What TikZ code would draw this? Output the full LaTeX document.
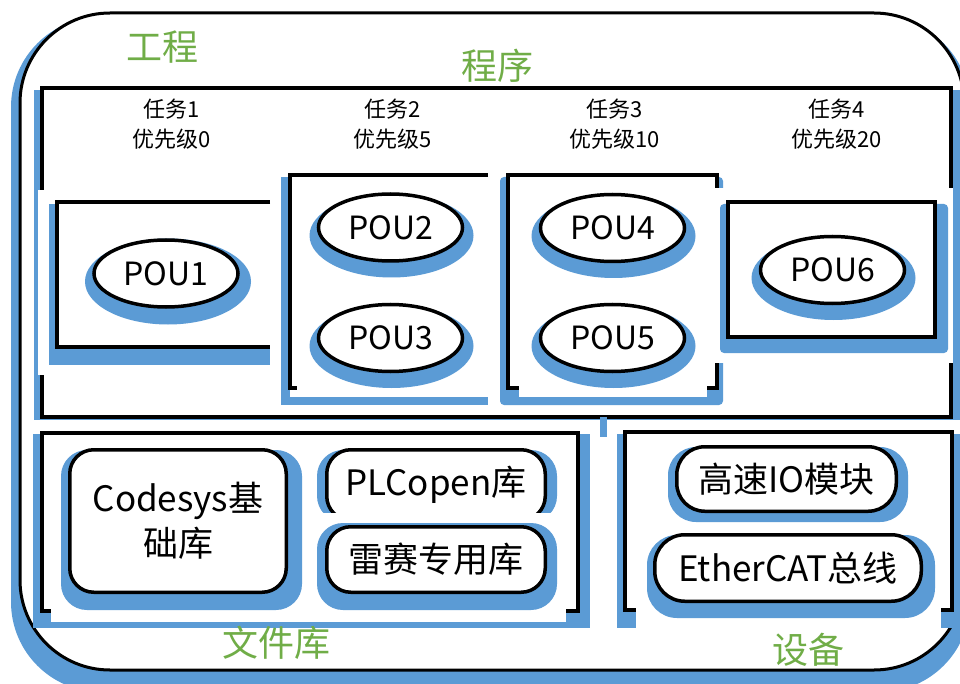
\documentclass[tikz,border=0pt]{standalone}
\usepackage{fontspec}
\setmainfont{Noto Sans CJK SC}
\usetikzlibrary{shapes.geometric}
\definecolor{shd}{HTML}{5B9BD5}
\definecolor{grn}{HTML}{70AD47}
\tikzset{
  shadowfill/.style={fill=shd},
  maskfill/.style={fill=white},
  panel/.style={draw=black, line width=3.4pt, fill=white},
  pou/.style={ellipse, draw=black, line width=3.5pt, fill=white, minimum width=144pt, minimum height=67pt, inner sep=0pt, font=\fontsize{32}{38}\selectfont},
  titletext/.style={text=grn, font=\fontsize{36}{40}\selectfont, inner sep=0pt},
  tasktext/.style={font=\fontsize{22}{30}\selectfont, align=center, inner sep=0pt},
  libbox/.style={draw=black, line width=3.5pt, fill=white, rounded corners=24pt, inner sep=0pt, font=\fontsize{35}{45}\selectfont, align=center},
}
\begin{document}
\begin{tikzpicture}[x=1pt, y=-1pt]
\useasboundingbox (0,0) rectangle (960,684);
\clip (0,0) rectangle (960,684);
% outer project box
\fill[shadowfill, rounded corners=90pt] (11,17) rectangle (970,692);
\draw[draw=black, line width=3pt, fill=white, rounded corners=90pt] (20,13) rectangle (964,670);
\node[titletext] (tproj) at (162,47) {工程};
\node[titletext] (tprog) at (497.5,66) {程序};
% program box
\fill[shadowfill] (34,90) rectangle (960,420);
\draw[panel] (42,88) rectangle (951,417);
\fill[shadowfill] (600,417) rectangle (607,437);
% task 1
\fill[maskfill] (38,190) rectangle (272,375);
\fill[shadowfill] (49,204) rectangle (270,365);
\fill[white] (57,202) rectangle (270,347);
\draw[line width=3.4pt] (270,202) -- (57,202) -- (57,347) -- (270,347);
% task 2
\fill[shadowfill] (281,177) rectangle (488,405);
\fill[white] (290,175) rectangle (488,397);
\draw[line width=3.4pt] (488,175) -- (290,175) -- (290,388) -- (297,388);
% task 3
\fill[shadowfill, rounded corners=4pt] (500,177) rectangle (723,405);
\draw[panel] (508,175) rectangle (717,388);
\fill[maskfill] (519,385.5) rectangle (707,397);
% task 4
\fill[maskfill] (706,188) rectangle (953,363);
\fill[shadowfill, rounded corners=4pt] (720,204) rectangle (948,353);
\draw[panel] (728,202) rectangle (935,337);
% task labels
\node[tasktext] (task1) at (172,124) {任务1\\优先级0};
\node[tasktext] (task2) at (393,124) {任务2\\优先级5};
\node[tasktext] (task3) at (614.5,124) {任务3\\优先级10};
\node[tasktext] (task4) at (836.5,124) {任务4\\优先级20};
% POUs
\fill[shadowfill] (168,281.5) ellipse [x radius=83pt, y radius=43pt];
\node[pou] (pou1) at (166,273.5) {POU1};
\fill[shadowfill] (391.5,235.5) ellipse [x radius=82pt, y radius=42pt];
\node[pou] (pou2) at (390.5,227.5) {POU2};
\fill[shadowfill] (391.5,346) ellipse [x radius=82pt, y radius=42pt];
\node[pou] (pou3) at (390.5,338) {POU3};
\fill[shadowfill] (613.5,236) ellipse [x radius=82pt, y radius=42pt];
\node[pou] (pou4) at (612.5,228) {POU4};
\fill[shadowfill] (613.5,346) ellipse [x radius=82pt, y radius=42pt];
\node[pou] (pou5) at (612.5,338) {POU5};
\fill[shadowfill] (833.5,278) ellipse [x radius=82pt, y radius=42pt];
\node[pou] (pou6) at (832.5,270) {POU6};
% library box
\fill[shadowfill] (33,434) rectangle (590,628);
\draw[panel] (42,433) rectangle (578,611);
\fill[maskfill] (51,609) rectangle (566,622);
\fill[shadowfill, rounded corners=26pt] (61,450) rectangle (302,610);
\node[libbox, minimum width=216.5pt, minimum height=142.5pt] (codesys) at (178,521) {Codesys基\\础库};
\fill[shadowfill, rounded corners=26pt] (317,450) rectangle (557,522);
\node[libbox, minimum width=218.5pt, minimum height=70.5pt] (plcopen) at (436,485) {PLCopen库};
\fill[maskfill] (314,513) rectangle (560,523);
\fill[shadowfill, rounded corners=26pt] (317,523) rectangle (557,610);
\node[libbox, minimum width=218.5pt, minimum height=65.5pt] (leisai) at (436,559.5) {雷赛专用库};
\node[titletext] (tlib) at (276,643) {文件库};
% device box
\fill[shadowfill] (617,434) rectangle (960,628);
\draw[panel] (625,432) rectangle (952,610);
\fill[maskfill] (636,608) rectangle (941,630);
\fill[shadowfill, rounded corners=28pt] (668,447) rectangle (908,522);
\node[libbox, rounded corners=28pt, minimum width=219.5pt, minimum height=64.5pt] (hsio) at (786.5,479) {高速IO模块};
\fill[shadowfill, rounded corners=30pt] (647,535) rectangle (935,618);
\node[libbox, rounded corners=30pt, minimum width=266.5pt, minimum height=66.5pt] (ecat) at (788,568) {EtherCAT总线};
\node[titletext] (tdev) at (808,650) {设备};
\end{tikzpicture}
\end{document}
